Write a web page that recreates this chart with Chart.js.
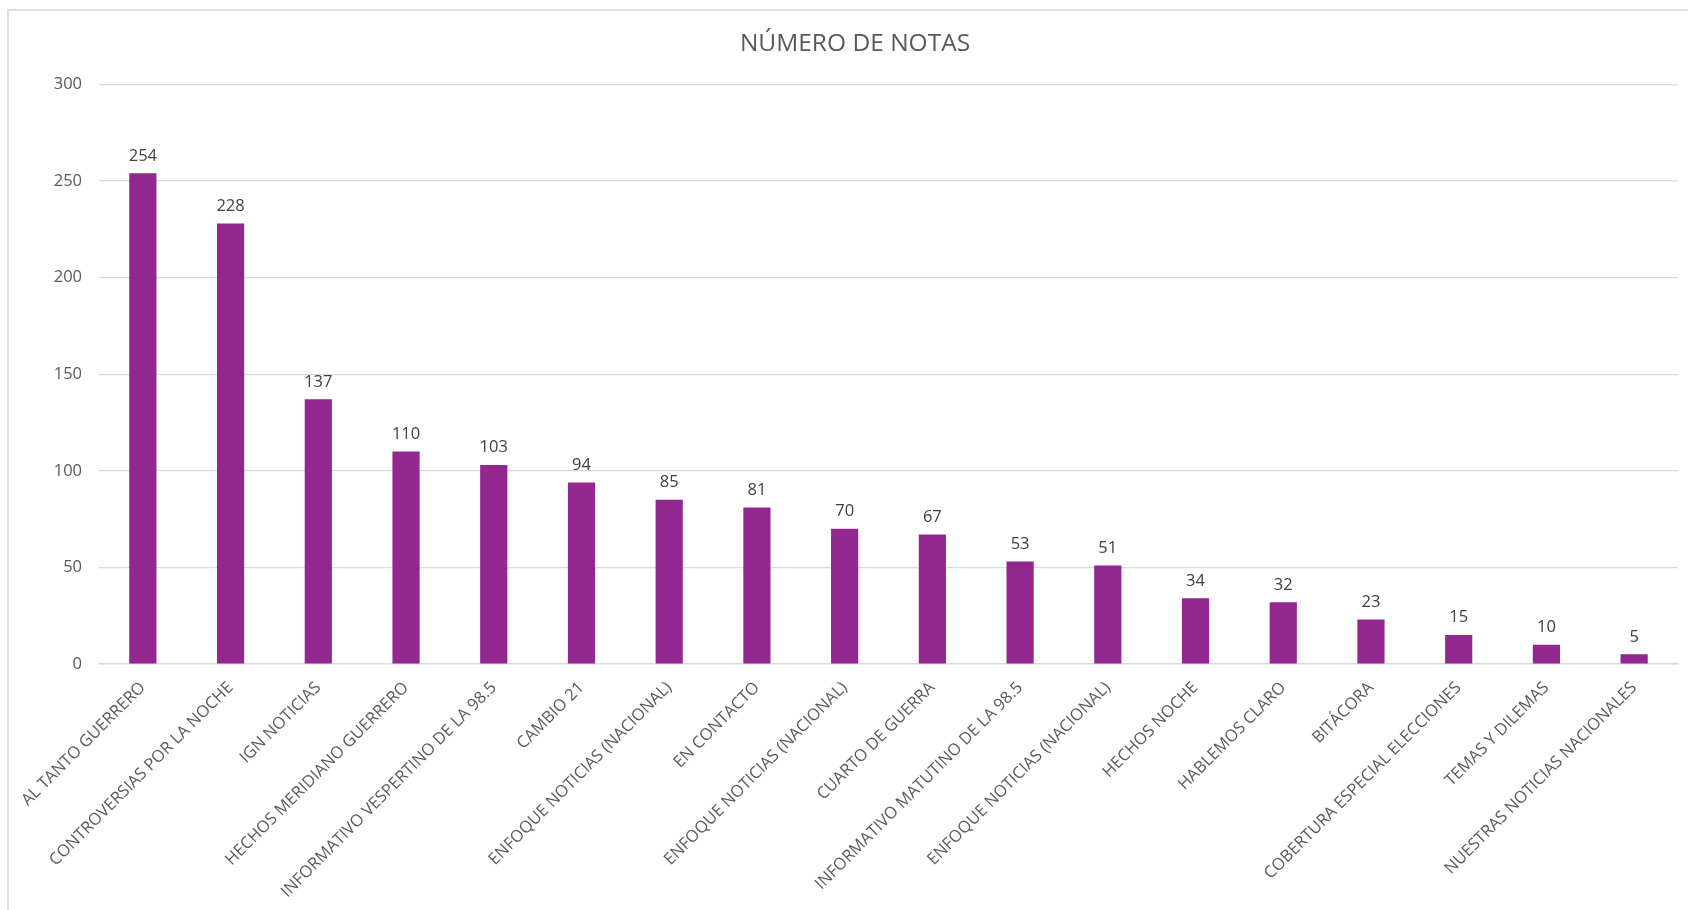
<!DOCTYPE html>
<html>
<head>
<meta charset="utf-8">
<script src="https://cdn.jsdelivr.net/npm/chart.js@4.4.1/dist/chart.umd.min.js"></script>
<style>
  html, body { margin: 0; padding: 0; background: #ffffff; overflow: hidden; }
  #wrap { position: relative; width: 1688px; height: 910px; }
  #frame { position: absolute; left: 7px; top: 9px; width: 1700px; height: 1000px; border: 2px solid #e0e0e0; box-sizing: border-box; }
  canvas { position: absolute; left: 0; top: 0; }
</style>
</head>
<body>
<div id="wrap">
  <div id="frame"></div>
  <canvas id="c" width="1688" height="910"></canvas>
</div>
<script>
const chartTitle = "NÚMERO DE NOTAS";
const categories = [
  "AL TANTO GUERRERO",
  "CONTROVERSIAS POR LA NOCHE",
  "IGN NOTICIAS",
  "HECHOS MERIDIANO GUERRERO",
  "INFORMATIVO VESPERTINO DE LA 98.5",
  "CAMBIO 21",
  "ENFOQUE NOTICIAS (NACIONAL)",
  "EN CONTACTO",
  "ENFOQUE NOTICIAS (NACIONAL)",
  "CUARTO DE GUERRA",
  "INFORMATIVO MATUTINO DE LA 98.5",
  "ENFOQUE NOTICIAS (NACIONAL)",
  "HECHOS NOCHE",
  "HABLEMOS CLARO",
  "BITÁCORA",
  "COBERTURA ESPECIAL ELECCIONES",
  "TEMAS Y DILEMAS",
  "NUESTRAS NOTICIAS NACIONALES"
];
const notas = [254, 228, 137, 110, 103, 94, 85, 81, 70, 67, 53, 51, 34, 32, 23, 15, 10, 5];
const yTicks = [0, 50, 100, 150, 200, 250, 300];

const FONT = "'Open Sans', 'Liberation Sans', sans-serif";

const valueLabels = {
  id: 'valueLabels',
  afterDatasetsDraw(chart) {
    const ctx = chart.ctx;
    const meta = chart.getDatasetMeta(0);
    ctx.save();
    ctx.font = "16.5px " + FONT;
    ctx.fillStyle = "#404040";
    ctx.textAlign = "center";
    ctx.textBaseline = "bottom";
    meta.data.forEach((bar, i) => {
      ctx.fillText(String(chart.data.datasets[0].data[i]), bar.x, bar.y - 9);
    });
    ctx.restore();
  }
};

new Chart(document.getElementById('c'), {
  type: 'bar',
  data: {
    labels: categories,
    datasets: [{
      label: chartTitle,
      data: notas,
      backgroundColor: '#92278F',
      borderWidth: 0,
      barPercentage: 0.62,
      categoryPercentage: 0.5
    }]
  },
  options: {
    responsive: false,
    animation: false,
    devicePixelRatio: 1,
    layout: { padding: { left: 32, right: 10, top: 0, bottom: 0 } },
    plugins: {
      legend: { display: false },
      tooltip: { enabled: false },
      title: {
        display: true,
        text: chartTitle,
        color: '#595959',
        font: { family: FONT, size: 24.5, weight: 'normal' },
        padding: { top: 29, bottom: 26 }
      }
    },
    scales: {
      x: {
        grid: { display: false },
        border: { display: true, color: '#d9d9d9', width: 1.5 },
        ticks: {
          color: '#595959',
          font: { family: FONT, size: 16.5 },
          minRotation: 45,
          maxRotation: 45,
          autoSkip: false,
          padding: 6
        },
        afterFit(scale) { scale.height = 246; }
      },
      y: {
        min: 0,
        max: 300,
        afterBuildTicks(scale) { scale.ticks = yTicks.map(v => ({ value: v })); },
        grid: { color: '#d9d9d9', lineWidth: 1.2, drawTicks: false },
        border: { display: false },
        ticks: {
          color: '#595959',
          font: { family: FONT, size: 16.5 },
          padding: 17
        },
        afterFit(scale) { scale.width = 67; }
      }
    }
  },
  plugins: [valueLabels]
});
</script>
</body>
</html>
